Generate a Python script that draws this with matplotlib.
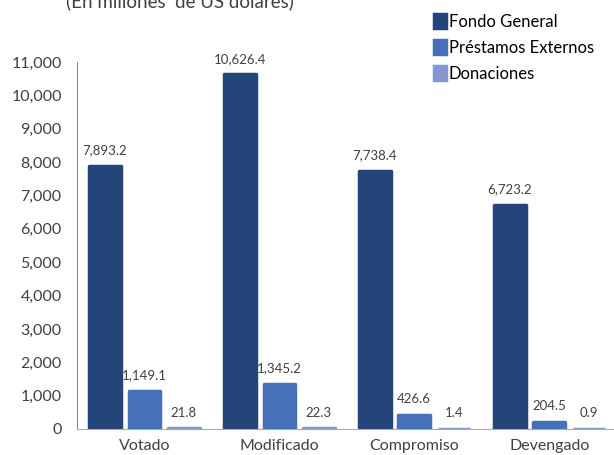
import matplotlib.pyplot as plt
import numpy as np

# datos del grafico
categorias = ['Votado', 'Modificado', 'Compromiso', 'Devengado']
fondo_general = [7893.2, 10626.4, 7738.4, 6723.2]
prestamos_externos = [1149.1, 1345.2, 426.6, 204.5]
donaciones = [21.8, 22.3, 1.4, 0.9]
series = ['Fondo General', 'Préstamos Externos', 'Donaciones']
colores = ['#23457A', '#4670B8', '#8296D0']

plt.rcParams['font.family'] = ['Lato', 'DejaVu Sans']

fig = plt.figure(figsize=(6.14, 4.55), dpi=100)
ax = fig.add_axes([77/614, 1 - 429/455, 537/614, 367/455])

x = np.arange(len(categorias))
ancho = 0.235
paso = 0.293
valores = [fondo_general, prestamos_externos, donaciones]
for i, (vals, nombre, c) in enumerate(zip(valores, series, colores)):
    pos = x + (i - 1) * paso
    ax.bar(pos, vals, width=ancho, color=c, edgecolor=c, linewidth=2.5,
           joinstyle='round', label=nombre)
    for p, v in zip(pos, vals):
        ax.annotate(f'{v:,.1f}', (p, v), xytext=(0, 7), textcoords='offset points',
                    ha='center', va='bottom', fontsize=9.5, color='#404040',
                    annotation_clip=False)

ax.set_xlim(-0.5, 3.48)
ax.set_ylim(0, 11000)
ax.set_yticks(np.arange(0, 11001, 1000))
ax.set_yticklabels([f'{t:,}' for t in range(0, 11001, 1000)])
ax.set_xticks(x)
ax.set_xticklabels(categorias)
ax.tick_params(axis='both', length=0, labelsize=11.5, colors='#404040')
ax.tick_params(axis='y', pad=11)
ax.tick_params(axis='x', pad=7)
for s in ['top', 'right']:
    ax.spines[s].set_visible(False)
ax.spines['left'].set_color('#888888')
ax.spines['bottom'].set_color('#AAAAAA')

fig.text(180/614, 1 - 1/455, '(En millones  de US dólares)', ha='center', va='center',
         fontsize=13.5, color='#404040')

fig.legend(loc='upper left', bbox_to_anchor=(422/614, 1 - 2/455), frameon=False,
           fontsize=12, handlelength=0.75, handleheight=0.9, handletextpad=0.15,
           labelspacing=0.6, borderpad=0.2)

fig.savefig('out.png', dpi=100)
